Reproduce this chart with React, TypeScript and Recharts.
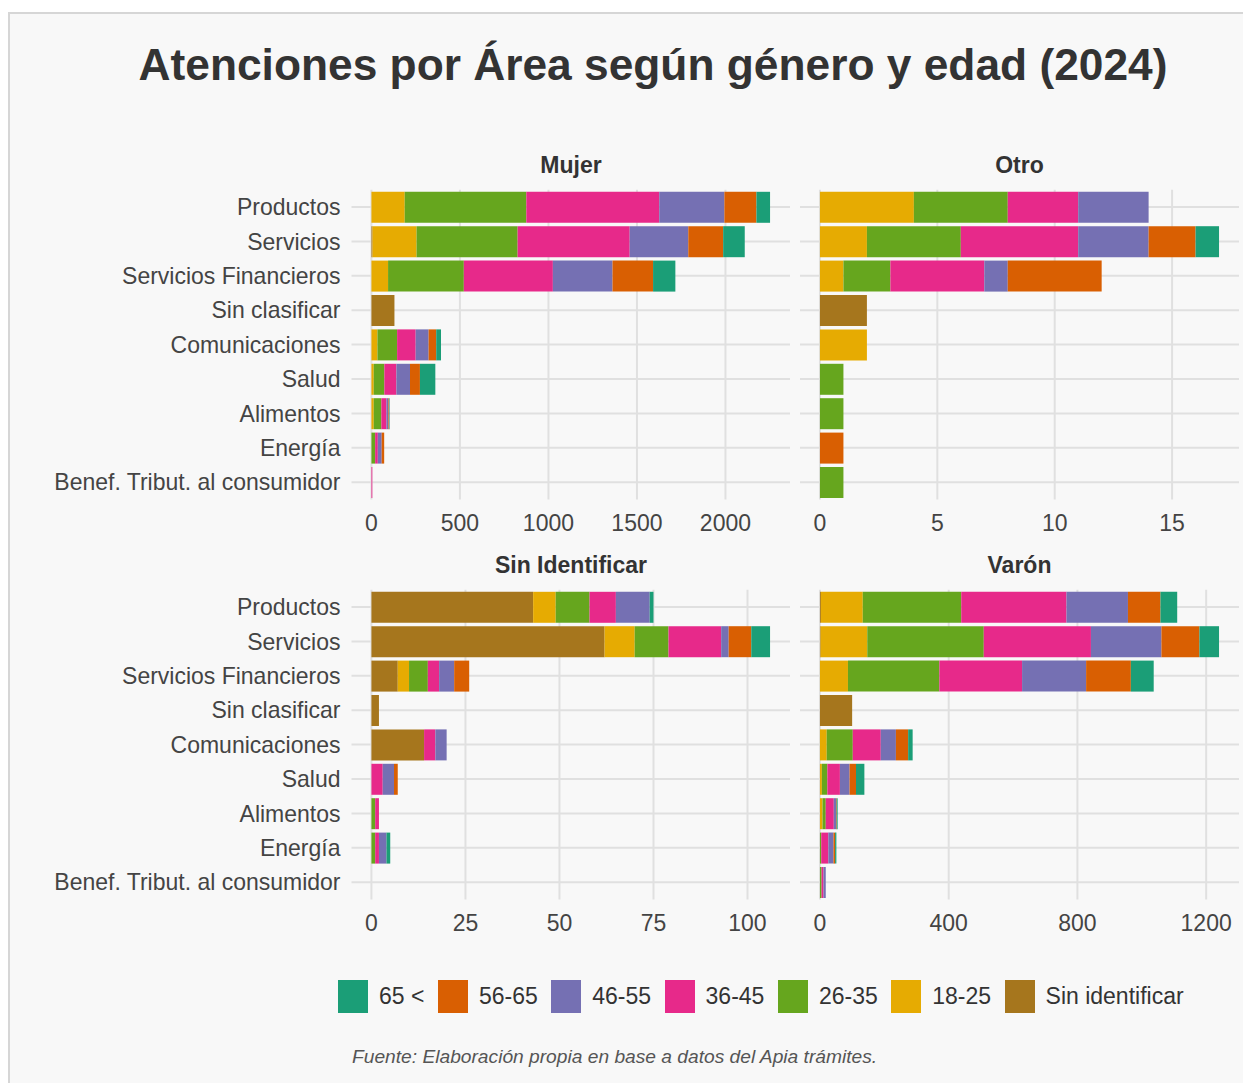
import React from 'react';
import { BarChart, Bar, XAxis, YAxis, CartesianGrid } from 'recharts';

const AREAS = [
  'Productos',
  'Servicios',
  'Servicios Financieros',
  'Sin clasificar',
  'Comunicaciones',
  'Salud',
  'Alimentos',
  'Energía',
  'Benef. Tribut. al consumidor',
];

// stack order, left to right
const AGE_GROUPS = ['Sin identificar', '18-25', '26-35', '36-45', '46-55', '56-65', '65 <'];
const AGE_COLORS = ['#A6761D', '#E6AB02', '#66A61E', '#E7298A', '#7570B3', '#D95F02', '#1B9E77'];

// each list follows AREAS order
const mujer = {
  'Sin identificar': [0, 6, 0, 130, 0, 0, 0, 0, 0],
  '18-25': [188, 249, 94, 0, 34, 13, 13, 0, 0],
  '26-35': [687, 571, 428, 0, 111, 60, 43, 21, 0],
  '36-45': [751, 633, 503, 0, 105, 68, 29, 15, 5],
  '46-55': [368, 331, 337, 0, 73, 77, 11, 22, 0],
  '56-65': [181, 197, 229, 0, 43, 56, 4, 14, 0],
  '65 <': [77, 122, 126, 0, 27, 87, 3, 0, 0],
};

const otro = {
  'Sin identificar': [0, 0, 0, 2, 0, 0, 0, 0, 0],
  '18-25': [4, 2, 1, 0, 2, 0, 0, 0, 0],
  '26-35': [4, 4, 2, 0, 0, 1, 1, 0, 1],
  '36-45': [3, 5, 4, 0, 0, 0, 0, 0, 0],
  '46-55': [3, 3, 1, 0, 0, 0, 0, 0, 0],
  '56-65': [0, 2, 4, 0, 0, 0, 0, 1, 0],
  '65 <': [0, 1, 0, 0, 0, 0, 0, 0, 0],
};

const sinIdentificar = {
  'Sin identificar': [43, 62, 7, 2, 14, 0, 0, 0, 0],
  '18-25': [6, 8, 3, 0, 0, 0, 0, 0, 0],
  '26-35': [9, 9, 5, 0, 0, 0, 1, 1, 0],
  '36-45': [7, 14, 3, 0, 3, 3, 1, 1, 0],
  '46-55': [9, 2, 4, 0, 3, 3, 0, 2, 0],
  '56-65': [0, 6, 4, 0, 0, 1, 0, 0, 0],
  '65 <': [1, 5, 0, 0, 0, 0, 0, 1, 0],
};

const varon = {
  'Sin identificar': [3, 2, 0, 100, 0, 0, 0, 0, 0],
  '18-25': [130, 145, 87, 0, 21, 6, 8, 0, 0],
  '26-35': [306, 362, 284, 0, 81, 17, 10, 4, 5],
  '36-45': [327, 333, 257, 0, 87, 39, 25, 22, 6],
  '46-55': [191, 219, 199, 0, 47, 30, 7, 16, 7],
  '56-65': [101, 118, 139, 0, 38, 20, 2, 5, 0],
  '65 <': [52, 61, 71, 0, 14, 26, 3, 4, 0],
};

const MUJER_TICKS = [0, 500, 1000, 1500, 2000];
const OTRO_TICKS = [0, 5, 10, 15];
const SIN_ID_TICKS = [0, 25, 50, 75, 100];
const VARON_TICKS = [0, 400, 800, 1200];

const FONT = '"Liberation Sans", Arial, sans-serif';
const GRID = '#e0e0e0';

const buildRows = (src: Record<string, number[]>) =>
  AREAS.map((area, i) => {
    const row: Record<string, any> = { area };
    AGE_GROUPS.forEach((g, j) => {
      row[`g${j}`] = src[g][i];
    });
    return row;
  });

interface PanelProps {
  src: Record<string, number[]>;
  ticks: number[];
  left: number;
  top: number;
  showLabels: boolean;
}

const Panel: React.FC<PanelProps> = ({ src, ticks, left, top, showLabels }) => {
  const rows = buildRows(src);
  const max = Math.max(...AREAS.map((_, i) => AGE_GROUPS.reduce((s, g) => s + src[g][i], 0)));
  const yAxisW = showLabels ? 343.5 : 0;
  const plotW = showLabels ? 438.5 : 439;

  return (
    <div style={{ position: 'absolute', left, top }}>
      <BarChart
        width={yAxisW + plotW}
        height={361.4}
        data={rows}
        layout="vertical"
        margin={{ top: 11.8, right: 0, bottom: 0, left: 0 }}
      >
        <CartesianGrid stroke={GRID} strokeWidth={2} syncWithTicks />
        <XAxis
          type="number"
          domain={[-0.05 * max, 1.05 * max]}
          ticks={ticks}
          height={40}
          axisLine={false}
          tickLine={false}
          tickMargin={9.6}
          tick={{ fill: '#444', fontSize: 23, fontFamily: FONT }}
        />
        <YAxis
          type="category"
          dataKey="area"
          hide={!showLabels}
          width={yAxisW}
          interval={0}
          axisLine={false}
          tickLine={false}
          tickSize={0}
          tickMargin={11}
          tick={{ fill: '#444', fontSize: 23, fontFamily: FONT }}
        />
        {AGE_GROUPS.map((g, j) => (
          <Bar
            key={g}
            dataKey={`g${j}`}
            name={g}
            stackId="a"
            fill={AGE_COLORS[j]}
            barSize={31}
            isAnimationActive={false}
          />
        ))}
      </BarChart>
    </div>
  );
};

const stripStyle: React.CSSProperties = {
  fontFamily: FONT,
  fontWeight: 'bold',
  fontSize: 23,
  fill: '#333',
};

export default function App() {
  // legend reads right-to-left of the stack
  const legendOrder = AGE_GROUPS.map((g, j) => ({ g, c: AGE_COLORS[j] })).reverse();

  return (
    <div style={{ position: 'relative', width: 1243, height: 1075, fontFamily: FONT }}>
      <style>{'html,body{overflow:hidden}'}</style>
      <div
        style={{
          position: 'absolute',
          left: 0,
          top: 4,
          width: 1243,
          height: 1075,
          background: '#f8f8f8',
          borderTop: '2px solid #d6d6d6',
          borderLeft: '2px solid #d6d6d6',
          boxSizing: 'border-box',
        }}
      />

      <svg width={1243} height={1075} style={{ position: 'absolute', left: 0, top: 0 }}>
        <text
          x={645}
          y={72}
          textAnchor="middle"
          style={{ fontFamily: FONT, fontWeight: 'bold', fontSize: 44.3, fill: '#333' }}
        >
          Atenciones por Área según género y edad (2024)
        </text>
        <text x={563} y={164.5} textAnchor="middle" style={stripStyle}>Mujer</text>
        <text x={1011.5} y={164.5} textAnchor="middle" style={stripStyle}>Otro</text>
        <text x={563} y={564.5} textAnchor="middle" style={stripStyle}>Sin Identificar</text>
        <text x={1011.5} y={564.5} textAnchor="middle" style={stripStyle}>Varón</text>
        <text
          x={344}
          y={1055}
          style={{ fontFamily: FONT, fontStyle: 'italic', fontSize: 19.2, fill: '#555' }}
        >
          Fuente: Elaboración propia en base a datos del Apia trámites.
        </text>
      </svg>

      <Panel src={mujer} ticks={MUJER_TICKS} left={0} top={170} showLabels />
      <Panel src={otro} ticks={OTRO_TICKS} left={792} top={170} showLabels={false} />
      <Panel src={sinIdentificar} ticks={SIN_ID_TICKS} left={0} top={570} showLabels />
      <Panel src={varon} ticks={VARON_TICKS} left={792} top={570} showLabels={false} />

      <div
        style={{
          position: 'absolute',
          left: 330,
          top: 972,
          display: 'flex',
          alignItems: 'center',
          fontSize: 23,
          color: '#333',
        }}
      >
        {legendOrder.map(({ g, c }) => (
          <div key={g} style={{ display: 'flex', alignItems: 'center', marginRight: 13.5 }}>
            <div style={{ width: 30, height: 33, background: c, marginRight: 11 }} />
            <span>{g}</span>
          </div>
        ))}
      </div>
    </div>
  );
}
